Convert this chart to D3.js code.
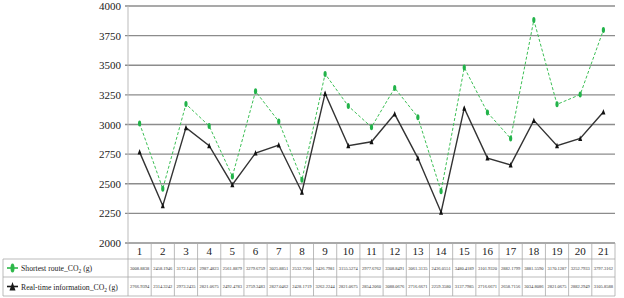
<!DOCTYPE html>
<html>
<head>
<meta charset="utf-8">
<script src="https://cdn.jsdelivr.net/npm/d3@7"></script>
<style>
body { margin: 0; background: #fff; }
</style>
</head>
<body>
<div id="chart"></div>
<script>
var categories = ['1','2','3','4','5','6','7','8','9','10','11','12','13','14','15','16','17','18','19','20','21'];
var shortest = [3008.8838, 2458.1946, 3172.1456, 2987.4823, 2561.8879, 3279.6759, 3025.8851, 2532.7266, 3426.7981, 3155.5274, 2977.6762,
	3308.8491, 3061.3135, 2436.0551, 3480.4189, 3101.9320, 2882.1799, 3881.5590, 3170.1287, 3252.7933, 3797.3162];
var realtime = [2766.9394, 2314.3242, 2973.2435, 2821.0675, 2492.4783, 2759.3483, 2827.0462, 2428.1719, 3262.2244, 2821.0675, 2854.2060,
	3088.0676, 2716.6671, 2259.3580, 3137.7985, 2716.6671, 2658.7156, 3034.8086, 2821.0675, 2882.2949, 3105.8588];
var yTicks = [2000, 2250, 2500, 2750, 3000, 3250, 3500, 3750, 4000];

var serif = '"Liberation Serif", "Times New Roman", "DejaVu Serif", serif';
var margin = {top: 6, right: 9, bottom: 55, left: 128};
var W = 624, H = 298;
var width = W - margin.left - margin.right,
	height = H - margin.top - margin.bottom;

var svg = d3.select('#chart').append('svg')
	.attr('width', W)
	.attr('height', H)
	.attr('font-family', serif);

var xScale = d3.scaleBand()
	.domain(categories)
	.range([margin.left, margin.left + width]);

var yScale = d3.scaleLinear()
	.domain([2000, 4000])
	.range([margin.top + height, margin.top]);

// grid lines
svg.append('g').selectAll('line').data(yTicks)
	.enter().append('line')
	.attr('x1', margin.left - 3)
	.attr('x2', margin.left + width)
	.attr('y1', function(d) { return yScale(d); })
	.attr('y2', function(d) { return yScale(d); })
	.style('stroke', '#8c8c8c')
	.style('stroke-width', 1.3);

svg.append('line')
	.attr('x1', margin.left).attr('x2', margin.left)
	.attr('y1', margin.top).attr('y2', margin.top + height)
	.style('stroke', '#bbb');

var yAxis = d3.axisLeft(yScale).tickValues(yTicks).tickFormat(d3.format('d')).tickSize(0).tickPadding(6);
var yGuide = svg.append('g')
	.attr('transform', 'translate(' + (margin.left - 1) + ',0)')
	.call(yAxis);
yGuide.attr('font-family', serif).attr('font-size', null);
yGuide.select('.domain').remove();
yGuide.selectAll('text')
	.style('font-family', serif)
	.style('font-size', '11px')
	.style('fill', '#222');

// table
var rowTop = margin.top + height,
	rowH = [16, 18, 19],
	tableLeft = 3,
	tableRight = margin.left + width;
var rowY = [rowTop, rowTop + rowH[0], rowTop + rowH[0] + rowH[1], rowTop + rowH[0] + rowH[1] + rowH[2]];

var table = svg.append('g');
rowY.forEach(function(y, i) {
	table.append('line')
		.attr('x1', i === 0 ? margin.left : tableLeft).attr('x2', tableRight)
		.attr('y1', y).attr('y2', y)
		.style('stroke', '#aaa').style('stroke-width', 0.8);
});
var colEdges = categories.map(function(c) { return xScale(c); }).concat([tableRight]);
table.selectAll('.vcol').data(colEdges)
	.enter().append('line')
	.attr('x1', function(d) { return d; }).attr('x2', function(d) { return d; })
	.attr('y1', rowY[0]).attr('y2', rowY[3])
	.style('stroke', '#aaa').style('stroke-width', 0.8);
table.append('line')
	.attr('x1', tableLeft).attr('x2', tableLeft)
	.attr('y1', rowY[1]).attr('y2', rowY[3])
	.style('stroke', '#aaa').style('stroke-width', 0.8);

table.selectAll('.hdr').data(categories)
	.enter().append('text')
	.attr('x', function(d) { return xScale(d) + xScale.bandwidth() / 2; })
	.attr('y', rowY[0] + 12)
	.attr('text-anchor', 'middle')
	.style('font-family', serif)
	.style('font-size', '11px')
	.style('fill', '#222')
	.text(function(d) { return d; });

function valueRow(vals, r) {
	table.append('g').selectAll('text').data(vals)
		.enter().append('text')
		.attr('x', function(d, i) { return xScale(categories[i]) + xScale.bandwidth() / 2; })
		.attr('y', (rowY[r] + rowY[r + 1]) / 2 + 1.5)
		.attr('text-anchor', 'middle')
		.style('font-family', serif)
		.style('font-size', '4.5px')
		.style('fill', '#333')
		.text(function(d) { return d.toFixed(4); });
}
valueRow(shortest, 1);
valueRow(realtime, 2);

// legend cells
var legendTexts = [];
function legendCell(r, color, label, tri) {
	var cy = (rowY[r] + rowY[r + 1]) / 2;
	var g = table.append('g');
	g.append('line').attr('x1', 7).attr('x2', 18).attr('y1', cy).attr('y2', cy)
		.style('stroke', color).style('stroke-width', 1.6);
	if (tri) {
		g.append('path').attr('d', 'M12.5,' + (cy - 4.5) + 'L15.5,' + (cy + 4) + 'L9.5,' + (cy + 4) + 'Z')
			.style('fill', color);
	} else {
		g.append('ellipse').attr('cx', 12.5).attr('cy', cy).attr('rx', 2).attr('ry', 4.5)
			.style('fill', color);
	}
	var t = g.append('text').attr('x', 21).attr('y', cy + 3)
		.style('font-family', serif)
		.style('font-size', '9px').style('fill', '#222');
	t.append('tspan').text(label);
	t.append('tspan').attr('dy', 2).style('font-size', '0.7em').text('2');
	t.append('tspan').attr('dy', -2).text(' (g)');
	legendTexts.push(t);
}
legendCell(1, '#2db84a', 'Shortest route_CO', false);
legendCell(2, '#1a1a1a', 'Real-time information_CO', true);

// shrink legend font so the longer label ends where the reference's does
var longest = legendTexts[1].node().getComputedTextLength();
var fs = Math.min(9.5, 9 * 97 / longest);
legendTexts.forEach(function(t) { t.style('font-size', fs + 'px'); });

// series
var line = d3.line()
	.x(function(d, i) { return xScale(categories[i]) + xScale.bandwidth() / 2; })
	.y(function(d) { return yScale(d); });

svg.append('path').datum(shortest)
	.attr('d', line)
	.style('fill', 'none')
	.style('stroke', '#3cbf55')
	.style('stroke-width', 1)
	.style('stroke-dasharray', '3,2');

svg.append('path').datum(realtime)
	.attr('d', line)
	.style('fill', 'none')
	.style('stroke', '#333')
	.style('stroke-width', 1.4);

svg.append('g').selectAll('ellipse').data(shortest)
	.enter().append('ellipse')
	.attr('cx', function(d, i) { return xScale(categories[i]) + xScale.bandwidth() / 2; })
	.attr('cy', function(d) { return yScale(d); })
	.attr('rx', 1.6).attr('ry', 3)
	.style('fill', '#22b34a');

svg.append('g').selectAll('path').data(realtime)
	.enter().append('path')
	.attr('transform', function(d, i) {
		return 'translate(' + (xScale(categories[i]) + xScale.bandwidth() / 2) + ',' + yScale(d) + ')';
	})
	.attr('d', 'M0,-3L2,2.5L-2,2.5Z')
	.style('fill', '#111');
</script>
</body>
</html>
